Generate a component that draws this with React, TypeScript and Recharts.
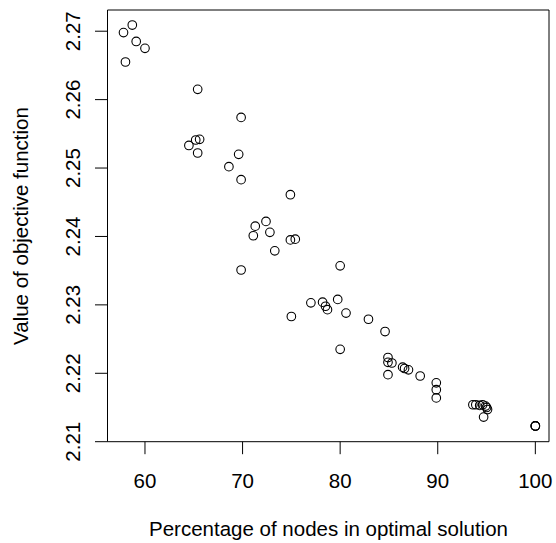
import { ScatterChart, Scatter, XAxis, YAxis, ReferenceArea } from 'recharts'

// percentage of nodes in the optimal solution
const pctNodes = [
  57.8, 58.7, 59.1, 60.0, 58.0, 65.4, 69.85, 64.5, 65.2, 65.6,
  65.4, 69.6, 68.6, 69.85, 74.9, 71.3, 72.4, 71.1, 72.8, 74.9,
  75.4, 73.3, 69.85, 80.0, 75.0, 77.0, 78.2, 78.5, 78.7, 79.75,
  80.6, 82.9, 84.6, 80.0, 84.9, 84.9, 85.3, 84.9, 86.4, 86.6,
  87.0, 88.2, 89.85, 89.85, 89.85, 93.6, 93.9, 94.3, 94.6, 94.9,
  95.0, 95.1, 94.7, 100, 100, 100,
]

// value of the objective function
const objValue = [
  2.2698, 2.2709, 2.2685, 2.2675, 2.2655, 2.2615, 2.2574, 2.2533, 2.2541, 2.2542,
  2.2522, 2.252, 2.2502, 2.2483, 2.2461, 2.2415, 2.2422, 2.2401, 2.2406, 2.2395,
  2.2396, 2.2379, 2.2351, 2.2357, 2.2283, 2.2303, 2.2304, 2.2298, 2.2293, 2.2308,
  2.2288, 2.2279, 2.2261, 2.2235, 2.2223, 2.2216, 2.2215, 2.2198, 2.2209, 2.2207,
  2.2205, 2.2196, 2.2186, 2.2176, 2.2164, 2.2154, 2.2154, 2.2153, 2.2154, 2.2152,
  2.215, 2.2147, 2.2136, 2.2123, 2.2123, 2.2123,
]

const xTicks = [60, 70, 80, 90, 100]
const yTicks = [2.21, 2.22, 2.23, 2.24, 2.25, 2.26, 2.27]

const X_DOMAIN: [number, number] = [56.16, 101.4]
const Y_DOMAIN: [number, number] = [2.21, 2.2731]

const FONT = '"Liberation Sans", Arial, Helvetica, sans-serif'
const FS = 20.5

const data = pctNodes.map((x, i) => ({ x, y: objValue[i] }))

const XTick = ({ x, payload }: any) => (
  <text x={x} y={488} textAnchor="middle" fontFamily={FONT} fontSize={FS} fill="#000">
    {payload.value}
  </text>
)

const YTick = ({ y, payload }: any) => (
  <text
    x={80}
    y={y}
    transform={`rotate(-90, 80, ${y})`}
    textAnchor="middle"
    fontFamily={FONT}
    fontSize={FS}
    fill="#000"
  >
    {Number(payload.value).toFixed(2)}
  </text>
)

const OpenCircle = ({ cx, cy }: any) => (
  <circle cx={cx} cy={cy} r={4.3} fill="none" stroke="#000" strokeWidth={1.1} />
)

export default function App() {
  return (
    <div style={{ position: 'absolute', left: 0, top: 0, background: '#fff' }}>
      <ScatterChart width={556} height={543} margin={{ top: 10, right: 7, bottom: 0, left: 0 }}>
        <XAxis
          type="number"
          dataKey="x"
          domain={X_DOMAIN}
          ticks={xTicks}
          interval={0}
          allowDataOverflow
          axisLine={false}
          tickLine={{ stroke: '#000', strokeWidth: 1 }}
          tickSize={12.5}
          tick={<XTick />}
          height={101.3}
        />
        <YAxis
          type="number"
          dataKey="y"
          domain={Y_DOMAIN}
          ticks={yTicks}
          interval={0}
          allowDataOverflow
          axisLine={false}
          tickLine={{ stroke: '#000', strokeWidth: 1 }}
          tickSize={12.5}
          tick={<YTick />}
          width={107.5}
        />
        {/* plot box */}
        <ReferenceArea
          x1={X_DOMAIN[0]}
          x2={X_DOMAIN[1]}
          y1={Y_DOMAIN[0]}
          y2={Y_DOMAIN[1]}
          fill="none"
          stroke="#000"
          strokeWidth={1}
          ifOverflow="visible"
        />
        <Scatter data={data} shape={<OpenCircle />} isAnimationActive={false} />
        <text x={328.5} y={535.5} textAnchor="middle" fontFamily={FONT} fontSize={FS} fill="#000">
          Percentage of nodes in optimal solution
        </text>
        <text
          x={28}
          y={226}
          transform="rotate(-90, 28, 226)"
          textAnchor="middle"
          fontFamily={FONT}
          fontSize={FS}
          fill="#000"
        >
          Value of objective function
        </text>
      </ScatterChart>
    </div>
  )
}
